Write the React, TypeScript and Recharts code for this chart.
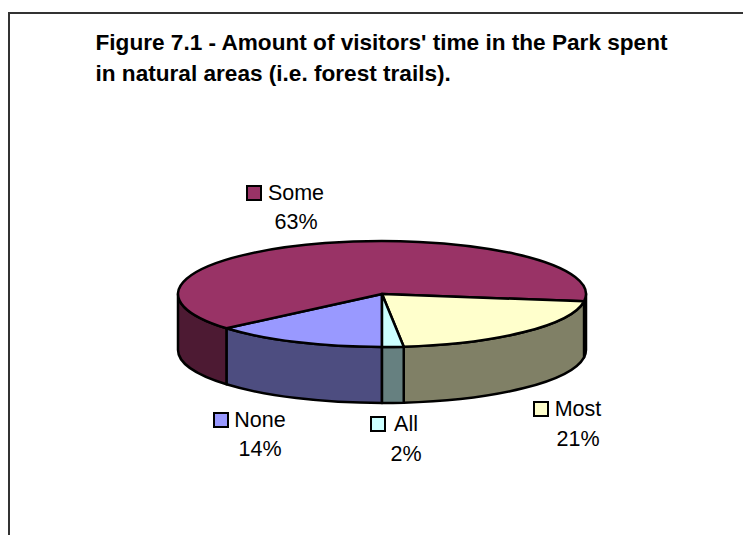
import { Pie, PieChart } from 'recharts';

const categories = ['None', 'Some', 'Most', 'All'];
const shares = [13.8, 63.4, 21.1, 1.7];
const topColors = ['#9999ff', '#993366', '#ffffcc', '#ccffff'];
const sideColors = ['#4d4d80', '#4d1a33', '#808066', '#668080'];
const titleLines = [
  "Figure 7.1 - Amount of visitors' time in the Park spent",
  'in natural areas (i.e. forest trails).',
];

const chartData = categories.map((name, i) => ({
  name,
  value: shares[i],
  fill: topColors[i],
  side: sideColors[i],
}));

// the pie is tilted by squashing y, depth is the height of the rim
const TILT = 53 / 204;
const DEPTH = 56;

const LABEL_SPOTS: Record<string, { x: number; y: number; keyX: number; gap: number }> = {
  Some: { x: 296, y: 200, keyX: 247, gap: 29 },
  Most: { x: 578, y: 416, keyX: 534, gap: 30 },
  All: { x: 406, y: 431, keyX: 371, gap: 30 },
  None: { x: 260, y: 427, keyX: 214, gap: 29 },
};

function point(cx: number, cy: number, r: number, deg: number) {
  const a = (deg * Math.PI) / 180;
  return [cx + r * Math.cos(a), cy - r * TILT * Math.sin(a)];
}

function TopFace(props: any) {
  const { cx, cy, outerRadius: r, startAngle, endAngle, fill } = props;
  const [x1, y1] = point(cx, cy, r, startAngle);
  const [x2, y2] = point(cx, cy, r, endAngle);
  const large = Math.abs(startAngle - endAngle) > 180 ? 1 : 0;
  const d = `M${cx},${cy}L${x1},${y1}A${r},${r * TILT} 0 ${large} 1 ${x2},${y2}Z`;
  return <path d={d} fill={fill} stroke="#000" strokeWidth={2.5} strokeLinejoin="round" />;
}

function SideFace(props: any) {
  const { cx, cy, outerRadius: r, startAngle, endAngle, side } = props;
  const parts = [];
  // only the lower half of the rim faces the viewer
  for (const turn of [0, 360]) {
    const hi = Math.min(startAngle, turn);
    const lo = Math.max(endAngle, turn - 180);
    if (hi <= lo) continue;
    const [x1, y1] = point(cx, cy, r, hi);
    const [x2, y2] = point(cx, cy, r, lo);
    const ry = r * TILT;
    parts.push(
      <path
        key={turn}
        d={`M${x1},${y1}A${r},${ry} 0 0 1 ${x2},${y2}L${x2},${y2 + DEPTH}A${r},${ry} 0 0 0 ${x1},${y1 + DEPTH}Z`}
        fill={side}
        stroke="#000"
        strokeWidth={2.5}
        strokeLinejoin="round"
      />,
    );
  }
  return <g>{parts}</g>;
}

function SliceLabel(props: any) {
  const { name, value, payload } = props;
  const spot = LABEL_SPOTS[name];
  return (
    <g fontFamily='"Liberation Sans", Arial, sans-serif' fontSize={21.5} fill="#000">
      <rect
        x={spot.keyX}
        y={spot.y - 14}
        width={14}
        height={14}
        fill={payload?.fill ?? props.fill}
        stroke="#000"
        strokeWidth={2}
      />
      <text x={spot.x} y={spot.y} textAnchor="middle">
        {name}
      </text>
      <text x={spot.x} y={spot.y + spot.gap} textAnchor="middle">
        {Math.round(value)}%
      </text>
    </g>
  );
}

export default function App() {
  return (
    <div style={{ position: 'absolute', left: 0, top: 0, width: 743, height: 535, background: '#fff', overflow: 'hidden' }}>
      <div
        style={{
          position: 'absolute',
          left: 8,
          top: 12,
          width: 760,
          height: 560,
          border: '2px solid #333',
        }}
      />
      <div
        style={{
          position: 'absolute',
          left: 95.5,
          top: 27,
          fontFamily: '"Liberation Sans", Arial, sans-serif',
          fontWeight: 700,
          fontSize: 22.6,
          lineHeight: '31px',
          whiteSpace: 'nowrap',
          color: '#000',
        }}
      >
        {titleLines.map((line) => (
          <div key={line}>{line}</div>
        ))}
      </div>
      <div style={{ position: 'absolute', left: 0, top: 0 }}>
        <PieChart width={743} height={535} margin={{ top: 0, right: 0, bottom: 0, left: 0 }}>
          <Pie
            data={chartData}
            dataKey="value"
            nameKey="name"
            cx={382}
            cy={294}
            outerRadius={204}
            startAngle={270}
            endAngle={-90}
            paddingAngle={0}
            stroke="none"
            shape={SideFace}
            isAnimationActive={false}
          />
          <Pie
            data={chartData}
            dataKey="value"
            nameKey="name"
            cx={382}
            cy={294}
            outerRadius={204}
            startAngle={270}
            endAngle={-90}
            paddingAngle={0}
            stroke="none"
            shape={TopFace}
            label={SliceLabel}
            labelLine={false}
            isAnimationActive={false}
          />
        </PieChart>
      </div>
    </div>
  );
}
